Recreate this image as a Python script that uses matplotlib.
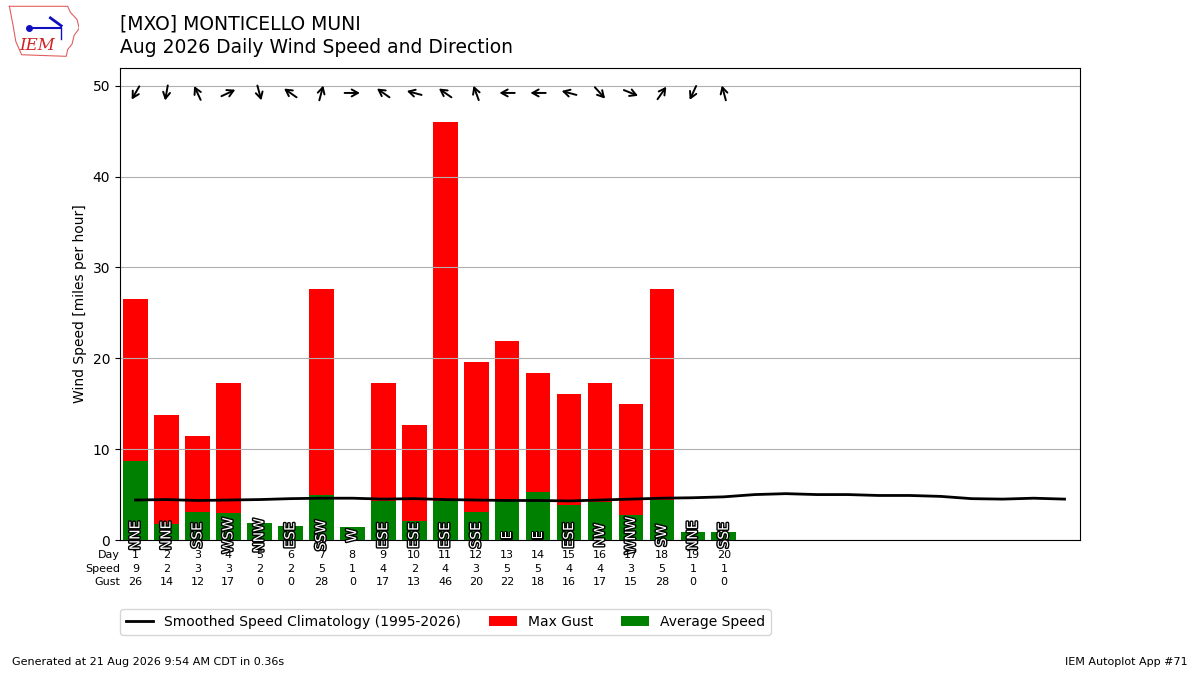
import matplotlib
matplotlib.use("Agg")
import matplotlib.pyplot as plt
import matplotlib.patheffects as pe
from matplotlib.transforms import offset_copy, blended_transform_factory
import numpy as np

# observed days (Aug 2026)
days = list(range(1, 21))
avg_speed = [8.7, 1.8, 3.1, 3.0, 1.9, 1.5, 4.9, 1.4, 4.3, 2.1,
             4.3, 3.1, 4.5, 5.3, 3.8, 4.2, 2.8, 4.4, 0.9, 0.9]
max_gust = [26.5, 13.8, 11.5, 17.3, 0, 0, 27.6, 0, 17.3, 12.7,
            46.0, 19.6, 21.9, 18.4, 16.1, 17.3, 15.0, 27.6, 0, 0]
speed_labels = [9, 2, 3, 3, 2, 2, 5, 1, 4, 2, 4, 3, 5, 5, 4, 4, 3, 5, 1, 1]
gust_labels = [26, 14, 12, 17, 0, 0, 28, 0, 17, 13,
               46, 20, 22, 18, 16, 17, 15, 28, 0, 0]
dir_text = ["NNE", "NNE", "SSE", "WSW", "NNW", "ESE", "SSW", "W", "ESE", "ESE",
            "ESE", "SSE", "E", "E", "ESE", "NW", "WNW", "SW", "NNE", "SSE"]
dir_deg = [30, 10, 155, 245, 345, 125, 195, 270, 125, 105,
           125, 160, 90, 90, 105, 318, 292, 215, 25, 165]

# climatology for every day of the month
clim_days = list(range(1, 32))
clim_speed = [4.40, 4.45, 4.35, 4.40, 4.45, 4.55, 4.60, 4.60, 4.50, 4.55,
              4.45, 4.40, 4.35, 4.35, 4.30, 4.40, 4.50, 4.60, 4.65, 4.75,
              5.00, 5.10, 5.00, 5.00, 4.90, 4.90, 4.80, 4.55, 4.50, 4.60, 4.50]

fig = plt.figure(figsize=(12, 6.75), dpi=100)
ax = fig.add_axes([0.1, 0.2, 0.8, 0.7])

ax.bar(days, max_gust, width=0.8, color="r", label="Max Gust")
ax.bar(days, avg_speed, width=0.8, color="g", label="Average Speed")
ax.plot(clim_days, clim_speed, color="k", lw=2,
        label="Smoothed Speed Climatology (1995-2026)")

# direction text inside the bars
for d, txt in zip(days, dir_text):
    ax.text(d, 0.5, txt, rotation=90, ha="center", va="center",
            color="white", fontsize=10,
            path_effects=[pe.withStroke(linewidth=2, foreground="k")])

# wind direction arrows along the top
half = 5.5
for d, deg in zip(days, dir_deg):
    rad = np.radians(deg)
    u, v = -np.sin(rad), -np.cos(rad)
    head = offset_copy(ax.transData, fig=fig, x=u * half, y=v * half, units="points")
    tail = offset_copy(ax.transData, fig=fig, x=-u * half, y=-v * half, units="points")
    ax.annotate("", xy=(d, 49.2), xycoords=head, xytext=(d, 49.2), textcoords=tail,
                arrowprops=dict(arrowstyle="->,head_length=0.45,head_width=0.25",
                                lw=1.4, color="k", shrinkA=0, shrinkB=0))

# table below the axis
trans = blended_transform_factory(ax.transData, ax.transAxes)
rows = [("Day", days, -0.032), ("Speed", speed_labels, -0.061),
        ("Gust", gust_labels, -0.089)]
for name, vals, yy in rows:
    ax.text(0.5, yy, name, transform=trans, ha="right", va="center", fontsize=8)
    for d, v in zip(days, vals):
        ax.text(d, yy, str(v), transform=trans, ha="center", va="center", fontsize=8)

ax.set_xlim(0.5, 31.5)
ax.set_ylim(0, 52)
ax.set_xticks([])
ax.set_yticks(range(0, 51, 10))
ax.grid(True, axis="y")
ax.set_ylabel("Wind Speed [miles per hour]")

ax.legend(loc=(0.0, -0.2), ncol=3)

fig.text(0.1, 0.965, "[MXO] MONTICELLO MUNI", fontsize=13.5, va="center")
fig.text(0.1, 0.929, "Aug 2026 Daily Wind Speed and Direction", fontsize=13.5, va="center")
fig.text(0.01, 0.015, "Generated at 21 Aug 2026 9:54 AM CDT in 0.36s", fontsize=8)
fig.text(0.99, 0.015, "IEM Autoplot App #71", fontsize=8, ha="right")

# rough IEM logo
lax = fig.add_axes([0.006, 0.915, 0.06, 0.078])
lax.set_xlim(0, 1)
lax.set_ylim(0, 1)
lax.axis("off")
outline_x = [0.03, 0.84, 0.88, 0.97, 1.0, 0.93, 0.9, 0.84, 0.82, 0.2, 0.12, 0.08, 0.03]
outline_y = [0.97, 0.97, 0.85, 0.72, 0.55, 0.42, 0.25, 0.15, 0.02, 0.05, 0.3, 0.62, 0.97]
lax.plot(outline_x, outline_y, color="#e06060", lw=0.8)
lax.plot([0.3, 0.75], [0.55, 0.55], color="#1010c0", lw=1.5)
lax.plot([0.3], [0.55], "o", color="#1010c0", ms=4)
lax.plot([0.6, 0.75], [0.75, 0.6], color="#1010c0", lw=2)
lax.plot([0.75, 0.75], [0.55, 0.35], color="#1010c0", lw=1)
lax.text(0.42, 0.22, "IEM", color="#d02020", fontsize=12, family="serif",
         style="italic", ha="center", va="center")

fig.savefig("out.png", dpi=100)
